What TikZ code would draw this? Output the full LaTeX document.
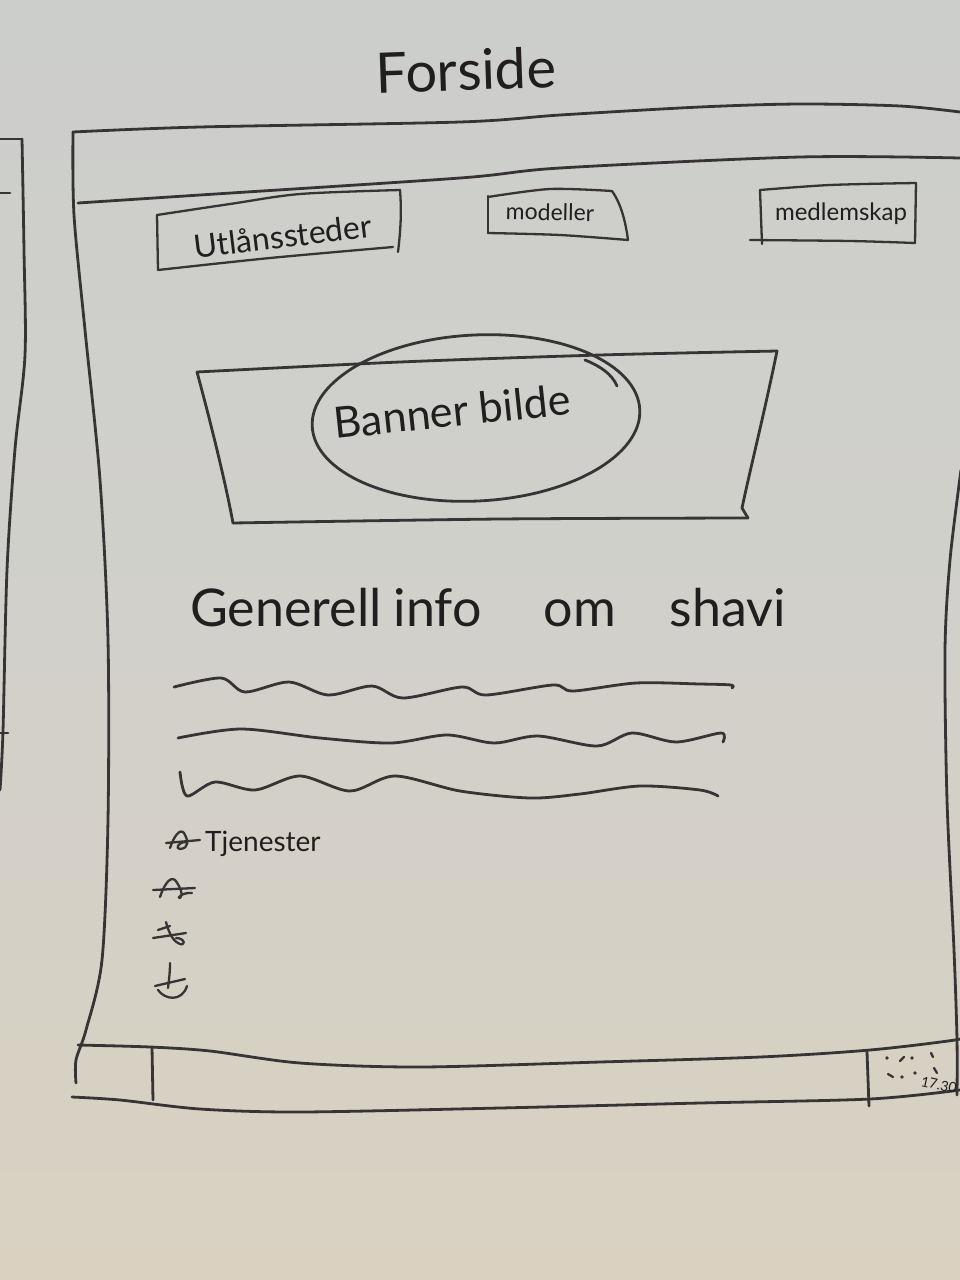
\documentclass[tikz,border=0pt]{standalone}
\usepackage{fontspec}
\newfontfamily\handfont{Lato}
\definecolor{inkc}{RGB}{54,52,52}
\definecolor{textc}{RGB}{32,30,30}
\definecolor{boardtop}{RGB}{204,206,204}
\definecolor{boardmid}{RGB}{209,208,202}
\definecolor{boardbot}{RGB}{218,209,193}
\begin{document}
\begin{tikzpicture}[x=1pt,y=-1pt,
  ink/.style={draw=inkc,line width=2.8pt,line cap=round,line join=round},
  fineink/.style={draw=inkc,line width=2.3pt,line cap=round,line join=round},
  hand/.style={text=textc,inner sep=0pt},
]
% whiteboard
\fill[top color=boardtop,bottom color=boardbot,middle color=boardmid] (0,0) rectangle (960,1280);
\useasboundingbox (0,0) rectangle (960,1280);

% edge of the neighbouring sketch
\draw[ink] (0,139) -- (22,139);
\draw[ink] plot[smooth] coordinates {(22,139) (24,250) (25,355) (15,449) (7,570) (3,731) (0,790)};
\draw[ink] (0,193) -- (10,193);
\draw[ink] (0,733) -- (8,733);

% page title
\node[hand,font=\handfont\fontsize{56}{56}\selectfont,rotate=2] (title) at (466,70) {Forside};

% browser frame
\draw[ink] plot[smooth] coordinates {(73,132) (200,127) (460,122) (560,115) (700,107) (800,104) (900,106) (960,112)};
\draw[ink] plot[smooth] coordinates {(73,132) (74,215) (85,330) (100,480) (108,640) (108,820) (102,960) (86,1030) (76,1060) (76,1083)};
\draw[ink] plot[smooth] coordinates {(78,203) (200,195) (460,178) (560,168) (800,157) (960,158)};
\draw[ink] plot[smooth] coordinates {(961,470) (950,560) (945,650) (947,800) (954,950) (957,1040) (957,1095)};

% navigation buttons
\draw[fineink] plot[smooth] coordinates {(157,215) (230,204) (300,194) (400,190)};
\draw[fineink] (400,190) .. controls (402,215) and (400,235) .. (398,252);
\draw[fineink] (157,215) -- (158,270);
\draw[fineink] plot[smooth] coordinates {(158,270) (270,258) (393,247)};
\node[hand,font=\handfont\fontsize{32}{32}\selectfont,rotate=7] (utlan) at (283,236) {Utlånssteder};

\draw[fineink] (488,196) -- (488,233);
\draw[fineink] plot[smooth] coordinates {(488,197) (550,189) (612,191)};
\draw[fineink] (612,191) .. controls (622,205) and (626,225) .. (628,240);
\draw[fineink] plot[smooth] coordinates {(488,233) (560,235) (628,240)};
\node[hand,font=\handfont\fontsize{23}{23}\selectfont,rotate=-1] (modeller) at (550,212) {modeller};

\draw[fineink] (760,190) -- (762,244);
\draw[fineink] plot[smooth] coordinates {(760,190) (830,185) (916,183)};
\draw[fineink] (916,183) -- (915,243);
\draw[fineink] plot[smooth] coordinates {(750,240) (850,241) (915,243)};
\node[hand,font=\handfont\fontsize{24}{24}\selectfont] (medlem) at (841,214) {medlemskap};

% banner
\draw[ink] plot[smooth] coordinates {(197,372) (400,362) (600,355) (777,351)};
\draw[ink] (197,372) .. controls (210,420) and (225,480) .. (233,523);
\draw[ink] plot[smooth] coordinates {(233,523) (500,519) (748,518)};
\draw[ink] (777,351) .. controls (765,410) and (750,470) .. (742,508) -- (748,518);
\draw[ink,rotate around={3:(476,418)}] (476,418) ellipse [x radius=164, y radius=83];
\draw[ink] (585,360) .. controls (600,366) and (612,374) .. (617,386);
\node[hand,font=\handfont\fontsize{43}{43}\selectfont,rotate=6] (banner) at (452,411) {Banner bilde};

% introduction heading and placeholder text
\node[hand,font=\handfont\fontsize{52}{52}\selectfont,anchor=base west] (intro) at (190,626)
  {Generell\hspace{12pt}info\hspace{62pt}om\hspace{54pt}shavi};
\draw[ink] plot[smooth] coordinates {(174,687) (221,678) (245,692) (289,682) (328,695) (372,686) (403,698) (462,687) (486,695) (553,685) (573,691) (636,683) (700,684) (731,685) (732,688)};
\draw[ink] plot[smooth] coordinates {(178,738) (241,729) (320,738) (391,743) (447,735) (494,743) (538,736) (597,746) (632,733) (676,742) (721,733) (723,742)};
\draw[ink] plot[smooth] coordinates {(180,772) (187,796) (215,782) (255,790) (300,776) (350,791) (395,776) (460,791) (530,798) (580,794) (640,786) (700,790) (718,796)};

% service list
\draw[fineink] (170,848) .. controls (174,836) and (180,828) .. (184,833) .. controls (188,840) and (190,848) .. (180,849) .. controls (175,849) and (178,842) .. (186,842);
\draw[fineink] (166,843) -- (200,840);
\node[hand,font=\handfont\fontsize{28}{28}\selectfont,anchor=base west] (tjen) at (205,851) {Tjenester};

\draw[fineink] (160,897) .. controls (164,885) and (170,876) .. (175,880) .. controls (180,886) and (184,896) .. (180,898) .. controls (176,899) and (182,892) .. (192,893);
\draw[fineink] (153,890) -- (195,888);

\draw[fineink] (166,922) .. controls (168,930) and (172,940) .. (178,943) .. controls (186,948) and (186,938) .. (176,938);
\draw[fineink] (153,938) -- (186,933);
\draw[fineink] (158,930) -- (170,926);

\draw[fineink] (170,963) .. controls (170,972) and (169,980) .. (168,988);
\draw[fineink] (158,990) .. controls (165,1000) and (182,1002) .. (187,986);
\draw[fineink] (155,986) -- (185,979);

% footer
\draw[ink] plot[smooth] coordinates {(78,1045) (150,1047) (210,1051) (300,1063) (420,1067) (600,1062) (760,1057) (870,1050) (955,1040) (962,1036)};
\draw[ink] plot[smooth] coordinates {(72,1097) (120,1100) (200,1109) (300,1112) (500,1108) (700,1103) (870,1099) (960,1090)};
\draw[ink] (152,1047) -- (153,1100);
\draw[ink] (867,1052) -- (869,1106);
\foreach \px/\py in {887/1058, 912/1058, 902/1077, 915/1073}
  \fill[inkc] (\px,\py) circle (1.8);
\draw[fineink] (900,1061) -- (904,1057);
\draw[fineink] (931,1053) -- (933,1057);
\draw[fineink] (888,1074) -- (893,1077);
\draw[fineink] (934,1068) -- (937,1073);
\node[hand,font=\handfont\fontsize{14}{14}\selectfont,rotate=-12] (clock) at (939,1085) {17.30};
\end{tikzpicture}
\end{document}
